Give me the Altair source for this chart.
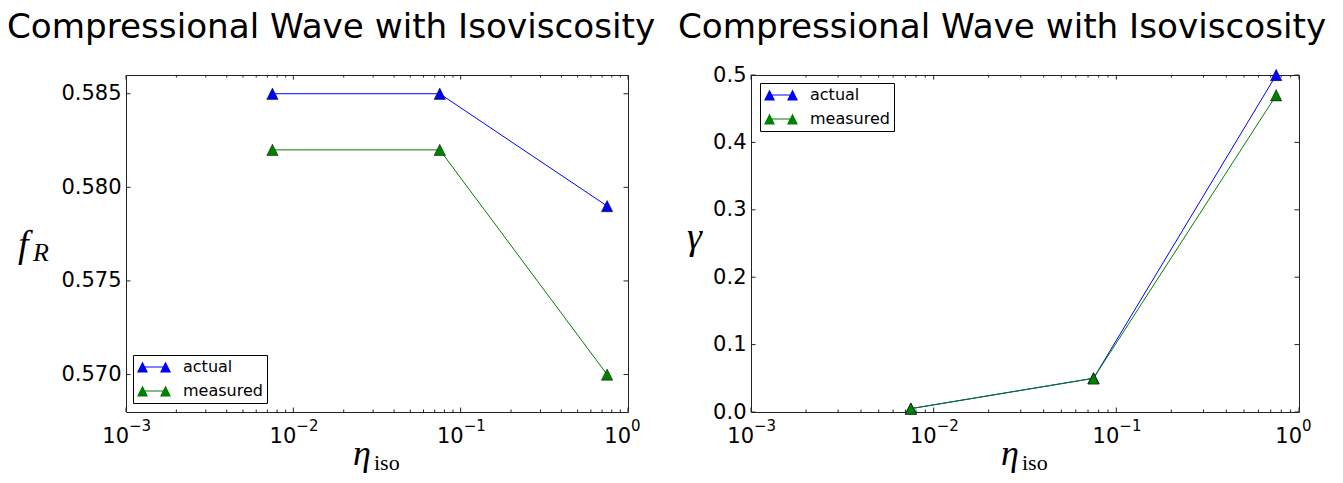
import altair as alt
import pandas as pd

# x positions (isoviscosity coefficient) shared by both panels
eta = [0.0075, 0.075, 0.75]
series = ["actual", "measured"]
colors = ["#0000ff", "#008000"]

# left panel: rotation fraction f_R
fr_actual = [0.585, 0.585, 0.579]
fr_measured = [0.582, 0.582, 0.570]
fr_ticks = [0.570, 0.575, 0.580, 0.585]

# right panel: damping gamma
gamma_actual = [0.005, 0.05, 0.5]
gamma_measured = [0.005, 0.05, 0.47]
gamma_ticks = [0.0, 0.1, 0.2, 0.3, 0.4, 0.5]

# log-axis decades and minor ticks
x_major = [0.001, 0.01, 0.1, 1.0]
x_exponents = ["\u22123", "\u22122", "\u22121", "0"]
x_minor = [m * 10.0 ** e for e in (-3, -2, -1) for m in range(2, 10)]

TITLE = "Compressional Wave with Isoviscosity"
H = 337

TRI = "M0,-1L-1,1L1,1Z"
LEGEND_SYMBOL = ("M-1.6,1.1L-0.5,-1.1L0.6,1.1Z "
                 "M3,1.1L4.1,-1.1L5.2,1.1Z "
                 "M-0.5,-0.12L4.1,-0.12L4.1,0.12L-0.5,0.12Z")


def text_layer(txt, x, y, size, italic=False, font="Liberation Serif", align="left"):
    return alt.Chart(pd.DataFrame({"t": [txt]})).mark_text(
        align=align, baseline="alphabetic", fontSize=size,
        fontStyle="italic" if italic else "normal", font=font, color="black",
    ).encode(text="t:N", x=alt.value(x), y=alt.value(y))


def panel(actual, measured, y_domain, y_ticks, y_format, width, title_dx,
          ylab_main, ylab_sub, ylab_x, ylab_y, legend_x, legend_y):
    df = pd.DataFrame({
        "eta": eta * 2,
        "value": actual + measured,
        "series": [s for s in series for _ in eta],
    })
    x = alt.X("eta:Q", scale=alt.Scale(type="log", domain=[0.001, 1.0]), axis=None)
    y = alt.Y(
        "value:Q",
        scale=alt.Scale(domain=y_domain, nice=False, zero=False),
        axis=alt.Axis(values=y_ticks, format=y_format, title=None, ticks=False,
                      domain=False, grid=False, labelFontSize=21, labelPadding=5,
                      labelColor="black", labelFont="DejaVu Sans"),
    )

    # one connecting line per series, drawn beneath the markers
    lines = [
        alt.Chart(df).transform_filter(alt.datum.series == s)
        .mark_line(strokeWidth=1, color=c).encode(x=x, y=y)
        for s, c in zip(series, colors)
    ]
    points = alt.Chart(df).mark_point(
        shape=TRI, size=128, filled=True, opacity=1, stroke="black", strokeWidth=0.5
    ).encode(
        x=x, y=y,
        fill=alt.Fill(
            "series:N", scale=alt.Scale(domain=series, range=colors),
            legend=alt.Legend(
                title=None, orient="none", legendX=legend_x, legendY=legend_y,
                symbolType=LEGEND_SYMBOL, symbolSize=100, symbolStrokeWidth=0,
                symbolOpacity=1, labelFontSize=16, labelFont="DejaVu Sans",
                labelColor="black", labelOffset=30, rowPadding=8, padding=4,
                strokeColor="black", fillColor="white",
            ),
        ),
    )

    # inward tick marks on all four sides
    major_df = pd.DataFrame({"eta": x_major})
    minor_df = pd.DataFrame({"eta": x_minor})
    ytick_df = pd.DataFrame({"value": y_ticks})
    tick_color = "#222222"
    xt_bot = alt.Chart(major_df).mark_rule(color=tick_color).encode(
        x=x, y=alt.value(H), y2=alt.value(H - 4.5))
    xt_top = alt.Chart(major_df).mark_rule(color=tick_color).encode(
        x=x, y=alt.value(0), y2=alt.value(4.5))
    xm_bot = alt.Chart(minor_df).mark_rule(color=tick_color).encode(
        x=x, y=alt.value(H), y2=alt.value(H - 2.5))
    xm_top = alt.Chart(minor_df).mark_rule(color=tick_color).encode(
        x=x, y=alt.value(0), y2=alt.value(2.5))
    yt_left = alt.Chart(ytick_df).mark_rule(color=tick_color).encode(
        y=y, x=alt.value(0), x2=alt.value(4.5))
    yt_right = alt.Chart(ytick_df).mark_rule(color=tick_color).encode(
        y=y, x=alt.value(width - 4.5), x2=alt.value(width))

    # decade labels 10^n
    lab_df = pd.DataFrame({"eta": x_major, "exp": x_exponents})
    lab_base = alt.Chart(lab_df).mark_text(
        text="10", align="right", baseline="alphabetic", dx=3, fontSize=21,
        font="DejaVu Sans", color="black"
    ).encode(x=x, y=alt.value(H + 30.5))
    lab_exp = alt.Chart(lab_df).mark_text(
        align="left", baseline="alphabetic", dx=3, fontSize=15,
        font="DejaVu Sans", color="black"
    ).encode(x=x, y=alt.value(H + 19), text="exp:N")

    layers = [xm_bot, xm_top, xt_bot, xt_top, yt_left, yt_right,
              *lines, points, lab_base, lab_exp,
              # panel title
              text_layer(TITLE, width / 2 + title_dx, -37, 34.2,
                         font="DejaVu Sans", align="center"),
              # x-axis title: eta_iso
              text_layer("\u03b7", width / 2 - 24, H + 53, 36, italic=True),
              text_layer("iso", width / 2 - 3, H + 58, 22),
              # y-axis title
              text_layer(ylab_main, ylab_x, ylab_y, 38, italic=True)]
    if ylab_sub:
        layers.append(text_layer(ylab_sub, ylab_x + 15, ylab_y + 4, 26, italic=True))

    return alt.layer(*layers).properties(width=width, height=H)


left = panel(fr_actual, fr_measured, [0.568, 0.586], fr_ticks, ".3f", 502, -46,
             "f", "R", -108, 182, 7, 280)
right = panel(gamma_actual, gamma_measured, [0.0, 0.5], gamma_ticks, ".1f", 548, -23,
              "\u03b3", None, -64, 174, 9, 8)

chart = (
    alt.hconcat(left, right, spacing=123, bounds="flush")
    .resolve_scale(fill="independent")
    .properties(padding={"left": 6, "top": 10, "right": 0, "bottom": 0},
                background="white")
    .configure_view(stroke="#222222", strokeWidth=1)
)

chart.save("out.html", embed_options={"renderer": "svg", "actions": False})
